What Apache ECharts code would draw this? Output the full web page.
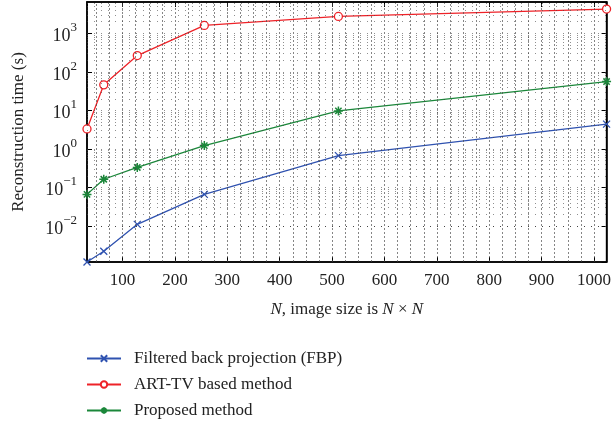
<!DOCTYPE html>
<html>
<head>
<meta charset="utf-8">
<script src="https://cdn.jsdelivr.net/npm/echarts@6/dist/echarts.min.js"></script>
<style>
  html, body { margin: 0; padding: 0; background: #fff; }
  #chart { width: 614px; height: 429px; }
</style>
</head>
<body>
<div id="chart"></div>
<script>
// image size N (N x N)
const sizes = [32, 64, 128, 256, 512, 1024];
// reconstruction time in seconds
const fbpTime = [0.00116, 0.0022, 0.011, 0.066, 0.67, 4.4];
const artTvTime = [3.3, 46, 265, 1600, 2740, 4270];
const proposedTime = [0.066, 0.163, 0.33, 1.22, 9.7, 56];
const seriesNames = ["Filtered back projection (FBP)", "ART-TV based method", "Proposed method"];

const FONT = "Liberation Serif";
const yMin = 0.00116;
const yMax = 6500;

const pairs = arr => sizes.map((n, i) => [n, arr[i]]);

// dotted grid like matlab (minor grid on both axes)
const vGrid = [];
for (let x = 50; x <= 1000; x += 25) vGrid.push({ xAxis: x });
const hGrid = [];
for (let k = -3; k <= 3; k++) {
    for (let m = 1; m <= 9; m++) {
        const v = m * Math.pow(10, k);
        if (v > yMin && v < yMax) hGrid.push({ yAxis: v });
    }
}

const supLabel = v => {
    const e = Math.round(Math.log10(v));
    return "{b|10}{s|" + String(e).replace("-", "\u2212") + "}";
};

const chart = echarts.init(document.getElementById("chart"));
const option = {
    animation: false,
    textStyle: { fontFamily: FONT },
    grid: {
        left: 87, right: 7, top: 2, bottom: 167,
        show: true, borderColor: "#000", borderWidth: 1.5
    },
    legend: {
        orient: "vertical",
        left: 86,
        top: 350,
        height: 79,
        padding: 0,
        itemWidth: 34,
        itemHeight: 8,
        itemGap: 9,
        data: seriesNames,
        textStyle: { fontFamily: FONT, fontSize: 17, lineHeight: 17, color: "#222", padding: [0, 0, 0, 8] }
    },
    xAxis: [
        {
            type: "value",
            min: 32,
            max: 1024,
            splitNumber: 10,
            name: "{i|N}, image size is {i|N} \u00d7 {i|N}",
            nameLocation: "middle",
            nameGap: 39,
            nameTextStyle: {
                fontFamily: FONT, fontSize: 17, color: "#222",
                rich: { i: { fontFamily: FONT, fontSize: 17, fontStyle: "italic", color: "#222" } }
            },
            axisLine: { lineStyle: { color: "#000", width: 1.5 } },
            axisTick: { inside: true, length: 5, lineStyle: { color: "#000" } },
            axisLabel: {
                showMinLabel: false, showMaxLabel: false, margin: 10,
                formatter: v => String(v),
                fontFamily: FONT, fontSize: 17, color: "#222"
            },
            splitLine: { show: false }
        },
        {
            type: "value",
            position: "top",
            min: 32,
            max: 1024,
            splitNumber: 10,
            axisLine: { lineStyle: { color: "#000", width: 1.5 } },
            axisTick: { inside: true, length: 5, lineStyle: { color: "#000" } },
            axisLabel: { show: false },
            splitLine: { show: false }
        }
    ],
    yAxis: [
        {
            type: "log",
            logBase: 10,
            min: yMin,
            max: yMax,
            name: "Reconstruction time (s)",
            nameLocation: "middle",
            nameGap: 60,
            nameTextStyle: { fontFamily: FONT, fontSize: 17, color: "#222" },
            axisLine: { show: true, lineStyle: { color: "#000", width: 1.5 } },
            axisTick: { inside: true, length: 5, lineStyle: { color: "#000" } },
            axisLabel: {
                showMinLabel: false, showMaxLabel: false, margin: 10,
                formatter: supLabel,
                rich: {
                    b: { fontFamily: FONT, fontSize: 18, color: "#222", lineHeight: 24, verticalAlign: "bottom" },
                    s: { fontFamily: FONT, fontSize: 13, color: "#222", lineHeight: 13, verticalAlign: "top" }
                }
            },
            splitLine: { show: false }
        },
        {
            type: "log",
            logBase: 10,
            min: yMin,
            max: yMax,
            position: "right",
            axisLine: { show: true, lineStyle: { color: "#000", width: 1.5 } },
            axisTick: { inside: true, length: 5, lineStyle: { color: "#000" } },
            axisLabel: { show: false },
            splitLine: { show: false }
        }
    ],
    series: [
        {
            name: "vgrid",
            type: "line",
            data: [],
            silent: true,
            z: 1,
            markLine: {
                silent: true,
                symbol: "none",
                label: { show: false },
                lineStyle: { color: "#444", width: 1, type: [2, 2], opacity: 0.65 },
                data: vGrid
            }
        },
        {
            name: "hgrid",
            type: "line",
            data: [],
            silent: true,
            z: 1,
            markLine: {
                silent: true,
                symbol: "none",
                label: { show: false },
                lineStyle: { color: "#444", width: 1, type: [1, 6], opacity: 0.6 },
                data: hGrid
            }
        },
        {
            name: seriesNames[0],
            type: "line",
            data: pairs(fbpTime),
            symbol: "path://M0,0L10,10M10,0L0,10",
            symbolSize: 7,
            itemStyle: { color: "#fff", borderColor: "#2f52b0", borderWidth: 1.3 },
            lineStyle: { color: "#2f52b0", width: 1.3 },
            z: 3
        },
        {
            name: seriesNames[1],
            type: "line",
            data: pairs(artTvTime),
            symbol: "circle",
            symbolSize: 8,
            itemStyle: { color: "#fff", borderColor: "#ee2228", borderWidth: 1.3 },
            lineStyle: { color: "#ee2228", width: 1.3 },
            z: 3
        },
        {
            name: seriesNames[2],
            type: "line",
            data: pairs(proposedTime),
            symbol: "path://M5,0L5,10M0,5L10,5M1.5,1.5L8.5,8.5M8.5,1.5L1.5,8.5",
            symbolSize: 9,
            itemStyle: { color: "#fff", borderColor: "#1b873a", borderWidth: 1.5 },
            lineStyle: { color: "#1b873a", width: 1.3 },
            z: 3
        }
    ]
};
chart.setOption(option);
</script>
</body>
</html>
